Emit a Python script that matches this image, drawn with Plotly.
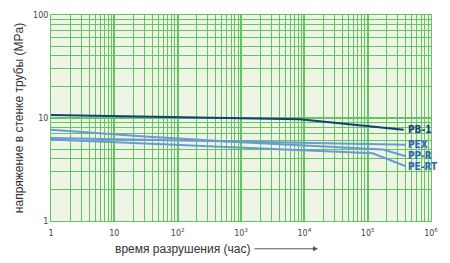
import math
import plotly.graph_objects as go

# data (time in hours, stress in MPa)
pb1_t = [1, 8.5e3, 3.7e5]
pb1_s = [10.7, 9.7, 7.7]
pex_t = [1, 4e5]
pex_s = [6.4, 5.5]
ppr_t = [1, 30, 1e3, 1.75e5, 4e5]
ppr_s = [7.7, 6.6, 5.8, 4.95, 4.25]
pert_t = [1, 1.2e5, 4e5]
pert_s = [6.2, 4.55, 3.4]

labels = ["PB-1", "PEX", "PP-R", "PE-RT"]
label_y = [7.75, 5.5, 4.35, 3.35]

x_tickvals = [1, 10, 100, 1e3, 1e4, 1e5, 1e6]
x_ticktext = ["1", "10", "10<sup>2</sup>", "10<sup>3</sup>", "10<sup>4</sup>", "10<sup>5</sup>", "10<sup>6</sup>"]
y_tickvals = [1, 10, 100]
y_ticktext = ["1", "10", "100"]

navy = "#173c7c"
light = "#6b98d6"
lblc = "#2c62b8"
grid = "#62c462"

fig = go.Figure()
fig.add_trace(go.Scatter(x=pb1_t, y=pb1_s, mode="lines", line=dict(color=navy, width=2)))
fig.add_trace(go.Scatter(x=pex_t, y=pex_s, mode="lines", line=dict(color=light, width=2)))
fig.add_trace(go.Scatter(x=ppr_t, y=ppr_s, mode="lines", line=dict(color=light, width=2)))
fig.add_trace(go.Scatter(x=pert_t, y=pert_s, mode="lines", line=dict(color=light, width=2)))

for i, (lab, yv) in enumerate(zip(labels, label_y)):
    fig.add_annotation(x=5.6, y=math.log10(yv), xref="x", yref="y", text="<b>" + lab + "</b>",
                       showarrow=False, xanchor="left", yanchor="middle",
                       font=dict(family="DejaVu Sans Condensed", size=10, color=navy if i == 0 else lblc))

fig.add_annotation(x=(182 - 51) / 380, y=-0.135, xref="paper", yref="paper",
                   text="время разрушения (час)", showarrow=False, yanchor="middle",
                   font=dict(family="Liberation Sans", size=12, color="#333"))
fig.add_annotation(x=(318 - 51) / 380, y=-0.135, xref="paper", yref="paper",
                   ax=-65, ay=0, axref="pixel", ayref="pixel",
                   text="", showarrow=True, arrowhead=2, arrowsize=1, arrowwidth=1, arrowcolor="#555")

axis_common = dict(showline=True, linecolor=grid, linewidth=1, mirror=True,
                   gridcolor=grid, gridwidth=1.5, ticks="", zeroline=False,
                   tickfont=dict(family="DejaVu Sans", size=8, color="#444"))

fig.update_xaxes(type="log", range=[0, 6], tickvals=x_tickvals, ticktext=x_ticktext,
                 ticklabelstandoff=4,
                 minor=dict(dtick="D1", showgrid=True, gridcolor=grid, gridwidth=1), **axis_common)
fig.update_yaxes(type="log", range=[0, 2], tickvals=y_tickvals, ticktext=y_ticktext,
                 minor=dict(dtick="D1", showgrid=True, gridcolor=grid, gridwidth=1),
                 title=dict(text="напряжение в стенке трубы (MPa)", standoff=6,
                            font=dict(family="Liberation Sans", size=12, color="#333")),
                 **axis_common)

fig.update_layout(width=450, height=263, margin=dict(l=51, r=19, t=11, b=42),
                  paper_bgcolor="white", plot_bgcolor="#eef5e4", showlegend=False)
fig.write_html("out.html")
